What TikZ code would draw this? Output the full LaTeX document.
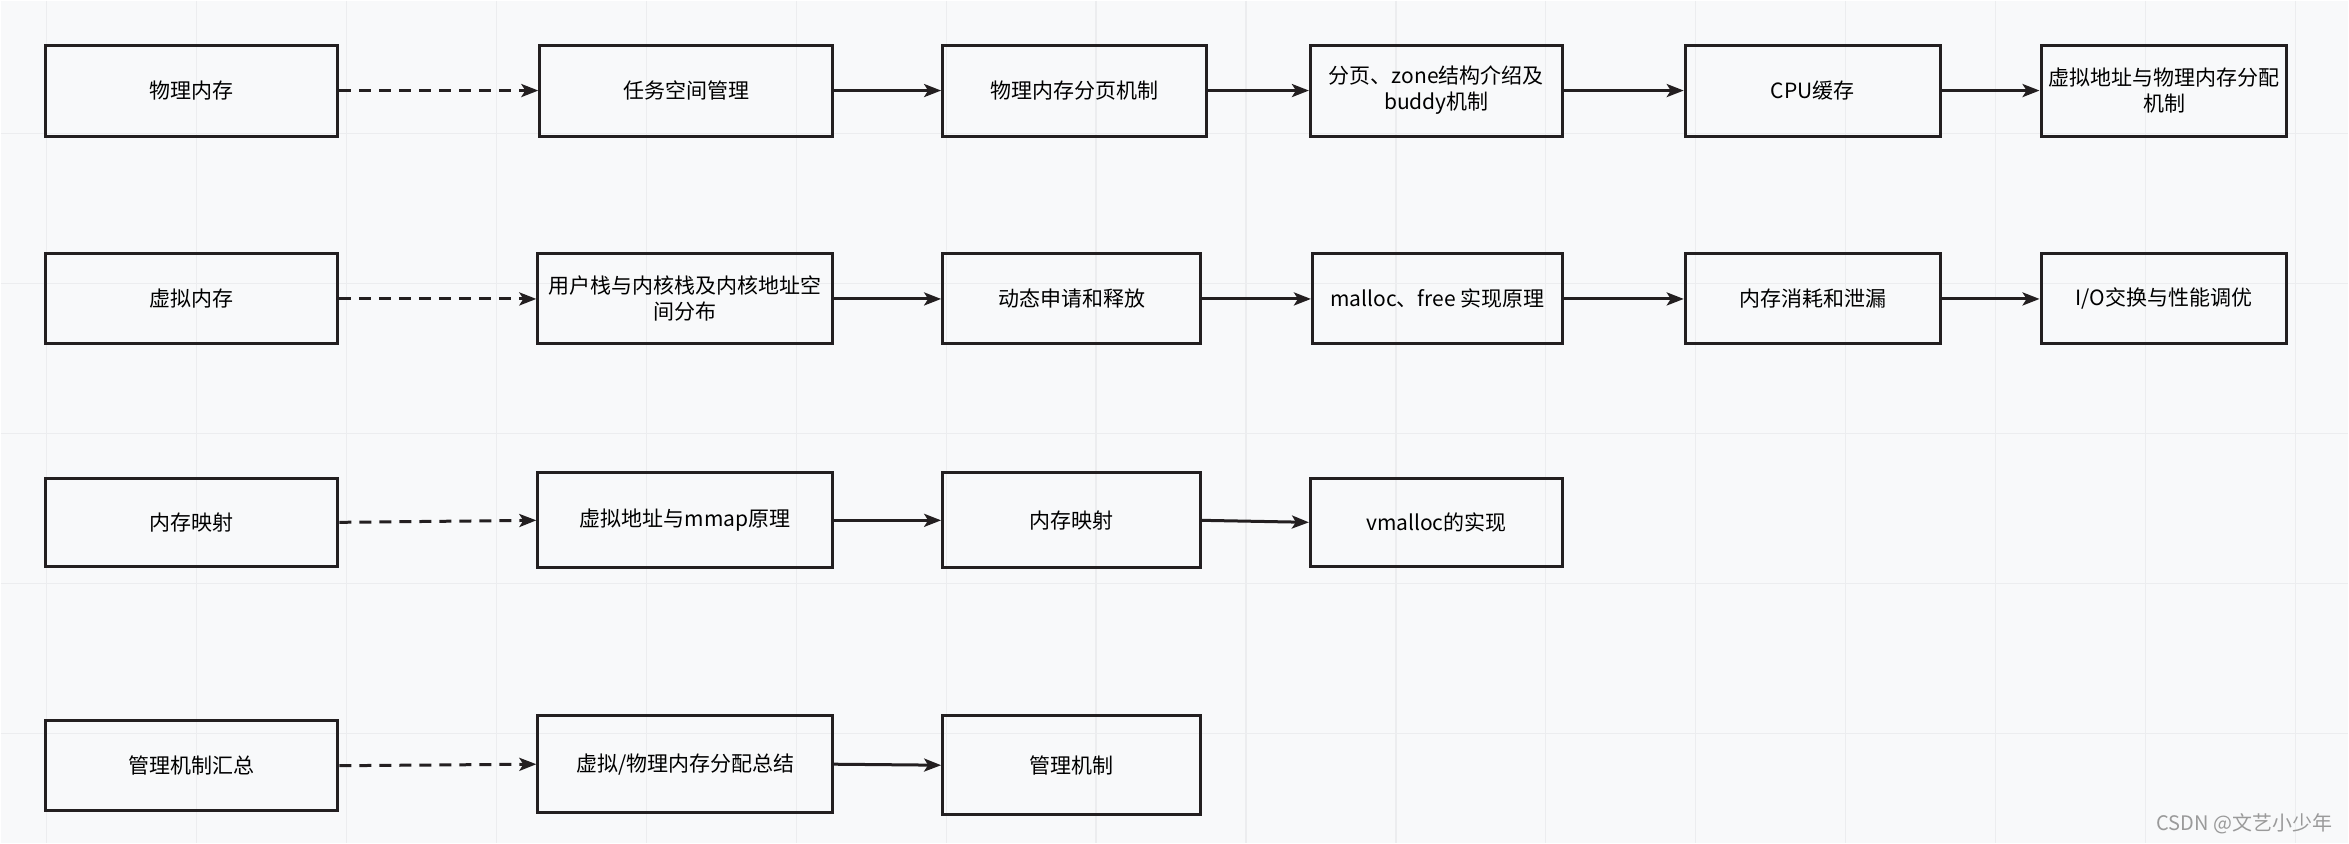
\documentclass[tikz,border=0pt]{standalone}
\usepackage{fontspec}
\setmainfont{Noto Sans CJK SC}
\usetikzlibrary{arrows.meta}

\definecolor{bgcol}{HTML}{F8F9FA}
\definecolor{gridcol}{HTML}{ECEDEF}
\definecolor{linecol}{HTML}{231F20}
\definecolor{markcol}{HTML}{9A9A9A}

\begin{document}
\begin{tikzpicture}[x=0.5pt, y=-0.5pt,
    topicbox/.style={draw=linecol, line width=1.5pt, align=center, inner sep=2pt,
      font=\fontsize{10.5}{13}\selectfont, text=black},
    nextarrow/.style={draw=linecol, line width=1.5pt,
      -{Stealth[length=8.5pt, width=6.5pt, inset=2pt]}},
    dasharrow/.style={nextarrow, dash pattern=on 6pt off 4pt},
    gridline/.style={draw=gridcol, line width=0.6pt}]

  \fill[bgcol] (0, 0) rectangle (2349, 843);
  \foreach \gx in {46, 196, ..., 2296}
    \draw[gridline] (\gx, 0) -- (\gx, 843);
  \foreach \gy in {133, 283, 433, 583, 733}
    \draw[gridline] (0, \gy) -- (2349, \gy);

  \node[topicbox, minimum width=146.5pt, minimum height=45.5pt] (phys) at (191, 90) {物理内存};
  \node[topicbox, minimum width=146.5pt, minimum height=45.5pt] (task) at (686, 90) {任务空间管理};
  \node[topicbox, minimum width=132pt, minimum height=45.5pt] (paging) at (1074.5, 90) {物理内存分页机制};
  \node[topicbox, minimum width=126pt, minimum height=45.5pt] (buddy) at (1436.5, 90) {分页、zone结构介绍及\\buddy机制};
  \node[topicbox, minimum width=127.5pt, minimum height=45.5pt] (cache) at (1813, 90) {CPU缓存};
  \node[topicbox, minimum width=123pt, minimum height=45.5pt] (alloc) at (2164.5, 90) {虚拟地址与物理内存分配\\机制};

  \node[topicbox, minimum width=146.5pt, minimum height=45pt] (virt) at (191, 298.5) {虚拟内存};
  \node[topicbox, minimum width=147.5pt, minimum height=45pt] (stack) at (685, 298.5) {用户栈与内核栈及内核地址空\\间分布};
  \node[topicbox, minimum width=129pt, minimum height=45pt] (dyn) at (1071.5, 298.5) {动态申请和释放};
  \node[topicbox, minimum width=125pt, minimum height=45pt] (malloc) at (1437.5, 298.5) {malloc、free 实现原理};
  \node[topicbox, minimum width=127.5pt, minimum height=45pt] (leak) at (1813, 298.5) {内存消耗和泄漏};
  \node[topicbox, minimum width=123pt, minimum height=45pt] (swap) at (2164.5, 298.5) {I/O交换与性能调优};

  \node[topicbox, minimum width=146.5pt, minimum height=44pt] (mapping) at (191, 522) {内存映射};
  \node[topicbox, minimum width=147.5pt, minimum height=47.5pt] (mmap) at (685, 520) {虚拟地址与mmap原理};
  \node[topicbox, minimum width=129pt, minimum height=47.5pt] (mapimpl) at (1071.5, 520) {内存映射};
  \node[topicbox, minimum width=126pt, minimum height=44pt] (vmalloc) at (1436.5, 522) {vmalloc的实现};

  \node[topicbox, minimum width=146.5pt, minimum height=45pt] (summary) at (191, 765.5) {管理机制汇总};
  \node[topicbox, minimum width=147.5pt, minimum height=48.5pt] (allocsum) at (685, 764) {虚拟/物理内存分配总结};
  \node[topicbox, minimum width=129pt, minimum height=49.5pt] (mech) at (1071.5, 765) {管理机制};

  \draw[dasharrow] (phys.east) -- (task.west);
  \draw[nextarrow] (task.east) -- (paging.west);
  \draw[nextarrow] (paging.east) -- (buddy.west);
  \draw[nextarrow] (buddy.east) -- (cache.west);
  \draw[nextarrow] (cache.east) -- (alloc.west);

  \draw[dasharrow] (virt.east) -- (stack.west);
  \draw[nextarrow] (stack.east) -- (dyn.west);
  \draw[nextarrow] (dyn.east) -- (malloc.west);
  \draw[nextarrow] (malloc.east) -- (leak.west);
  \draw[nextarrow] (leak.east) -- (swap.west);

  \draw[dasharrow] (mapping.east) -- (mmap.west);
  \draw[nextarrow] (mmap.east) -- (mapimpl.west);
  \draw[nextarrow] (mapimpl.east) -- (vmalloc.west);

  \draw[dasharrow] (summary.east) -- (allocsum.west);
  \draw[nextarrow] (allocsum.east) -- (mech.west);

  \node[anchor=east, text=markcol, font=\fontsize{10}{12}\selectfont, inner sep=0pt] (mark) at (2333, 824) {CSDN @文艺小少年};

\end{tikzpicture}
\end{document}
